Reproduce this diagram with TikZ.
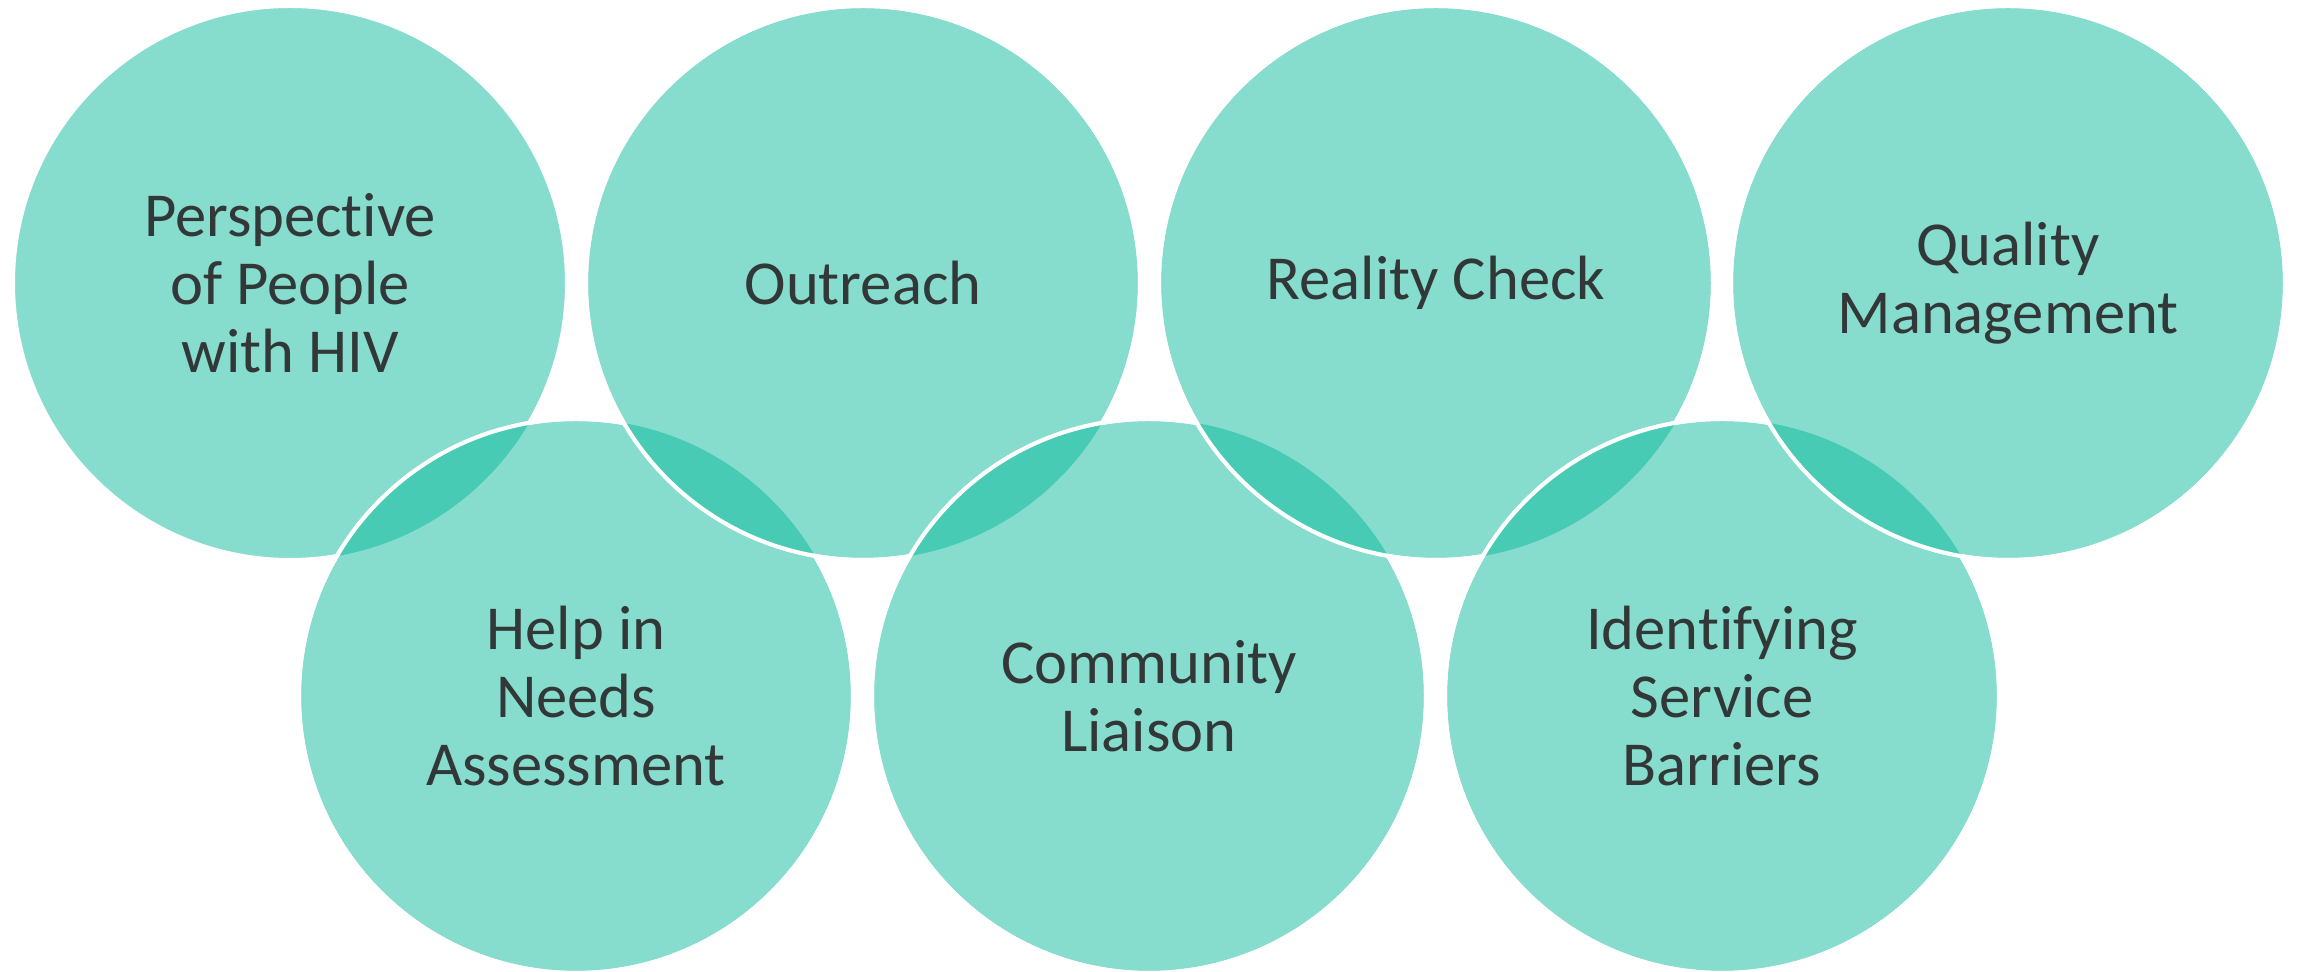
\documentclass[tikz,border=0pt]{standalone}
\usepackage{fontspec}
\setmainfont{Carlito}[Ligatures={NoCommon}]
\definecolor{lightteal}{RGB}{134,220,205}
\definecolor{darkteal}{RGB}{71,203,180}
\definecolor{txt}{RGB}{50,56,55}
\begin{document}
\begin{tikzpicture}[x=0.1mm,y=0.1mm,
  bub/.style={circle, fill=lightteal, draw=white, line width=0.4mm,
    minimum size=55.4mm, inner sep=0pt, align=center, text=txt,
    font=\fontsize{17.8}{19.4}\selectfont},
  ring/.style={draw=white, line width=0.4mm},
  lens/.style={fill=darkteal}]
\useasboundingbox (0,0) rectangle (2297,972);
\node[bub] (t1) at (290,689) {Perspective\\of People\\with HIV};
\node[bub] (b1) at (576,276) {Help in\\Needs\\Assessment};
\begin{scope}\clip (t1.center) circle (27.7mm); \fill[lens] (b1.center) circle (27.7mm);\end{scope}
\draw[ring] (b1.center) circle (27.7mm);
\node[bub] (t2) at (863,689) {Outreach};
\begin{scope}\clip (b1.center) circle (27.7mm); \fill[lens] (t2.center) circle (27.7mm);\end{scope}
\draw[ring] (t2.center) circle (27.7mm);
\node[bub] (b2) at (1149,276) {Community\\Liaison};
\begin{scope}\clip (t2.center) circle (27.7mm); \fill[lens] (b2.center) circle (27.7mm);\end{scope}
\draw[ring] (b2.center) circle (27.7mm);
\node[bub] (t3) at (1436,689) {Reality Check};
\begin{scope}\clip (b2.center) circle (27.7mm); \fill[lens] (t3.center) circle (27.7mm);\end{scope}
\draw[ring] (t3.center) circle (27.7mm);
\node[bub] (b3) at (1722,276) {Identifying\\Service\\Barriers};
\begin{scope}\clip (t3.center) circle (27.7mm); \fill[lens] (b3.center) circle (27.7mm);\end{scope}
\draw[ring] (b3.center) circle (27.7mm);
\node[bub] (t4) at (2008,689) {Quality\\Management};
\begin{scope}\clip (b3.center) circle (27.7mm); \fill[lens] (t4.center) circle (27.7mm);\end{scope}
\draw[ring] (t4.center) circle (27.7mm);
\end{tikzpicture}
\end{document}
